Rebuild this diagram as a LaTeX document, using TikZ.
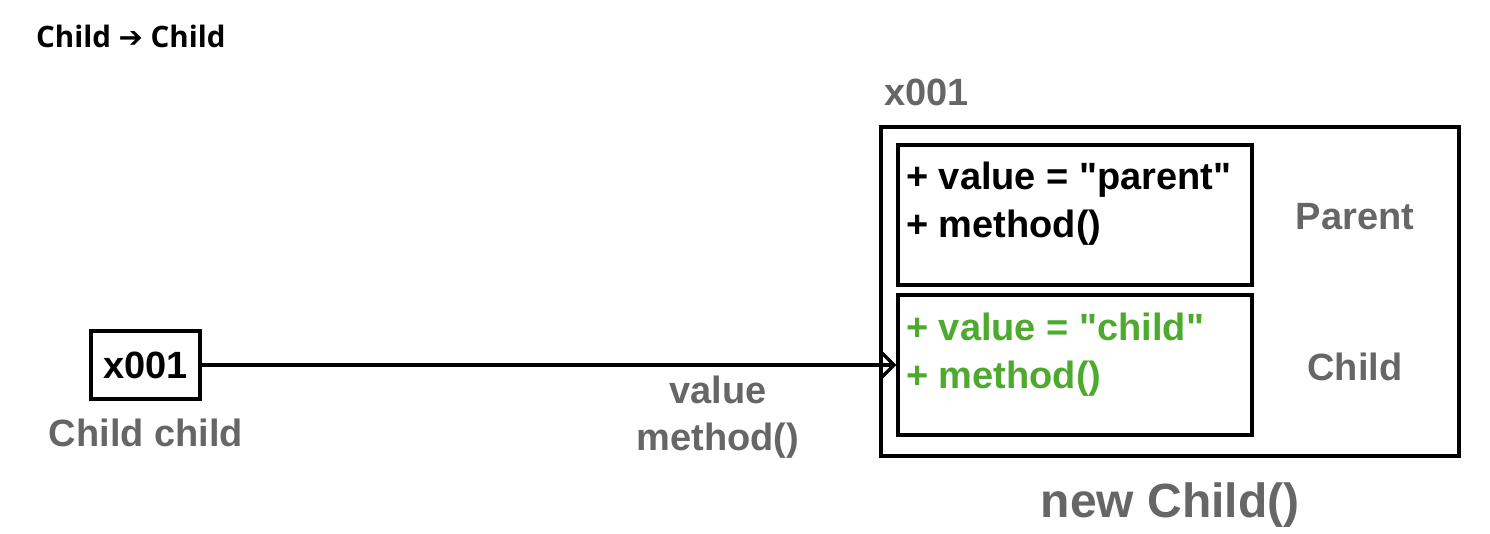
\documentclass[tikz,border=0pt]{standalone}
\usepackage{fontspec}
\setmainfont{Liberation Sans}[Ligatures=TeXOff]
\newfontfamily\titlefont{Open Sans}
\newfontfamily\arrowfont{DejaVu Sans}
\usetikzlibrary{arrows.meta}
\definecolor{txtgray}{HTML}{666666}
\definecolor{txtgreen}{HTML}{4DAA2E}
\begin{document}
\begin{tikzpicture}[x=1pt,y=-1pt,
  box/.style={draw=black,line width=3.2pt,inner sep=0pt,minimum width=#1},
  lbl/.style={inner sep=0pt,anchor=base west,font=\fontsize{38}{46}\selectfont\bfseries},
  clbl/.style={inner sep=0pt,anchor=base,font=\fontsize{38}{46}\selectfont\bfseries,text=txtgray},
  arr/.style={line width=3.6pt,-{Straight Barb[length=14pt,width=28pt,line width=3.4pt]}}]
\useasboundingbox (0,0) rectangle (1490,534);
% title
\node[inner sep=0pt,anchor=base west,font=\titlefont\fontsize{29.5}{33}\selectfont\bfseries] (title) at (36,48) {Child {\arrowfont\fontsize{29}{33}\selectfont ➔} Child};
% reference variable
\node[box=109pt,minimum height=68pt,font=\fontsize{38}{46}\selectfont\bfseries,text height=27pt,text depth=0pt] (ptr) at (145.5,365) {x001};
\node[clbl] (ptrname) at (146,446) {Child child};
% object
\node[box=578pt,minimum height=329pt] (obj) at (1170,291.5) {};
\node[clbl,anchor=base west] (addr) at (884,106) {x001};
\node[box=354pt,minimum height=140pt] (pbox) at (1075,215) {};
\node[box=354pt,minimum height=140pt] (cbox) at (1075,365) {};
\node[lbl] (p1) at (906,190) {+ value = "parent"};
\node[lbl] (p2) at (906,238) {+ method()};
\node[lbl,text=txtgreen] (c1) at (906,340) {+ value = "child"};
\node[lbl,text=txtgreen] (c2) at (906,388) {+ method()};
\node[clbl] (pname) at (1355,230) {Parent};
\node[clbl] (cname) at (1355,380) {Child};
\node[inner sep=0pt,anchor=base,font=\fontsize{48}{56}\selectfont\bfseries,text=txtgray] (newc) at (1170,517) {new Child()};
% connector
\draw[arr] (ptr.east) -- (cbox.west);
\node[clbl] (l1) at (718,403) {value};
\node[clbl] (l2) at (718,450) {method()};
\end{tikzpicture}
\end{document}
